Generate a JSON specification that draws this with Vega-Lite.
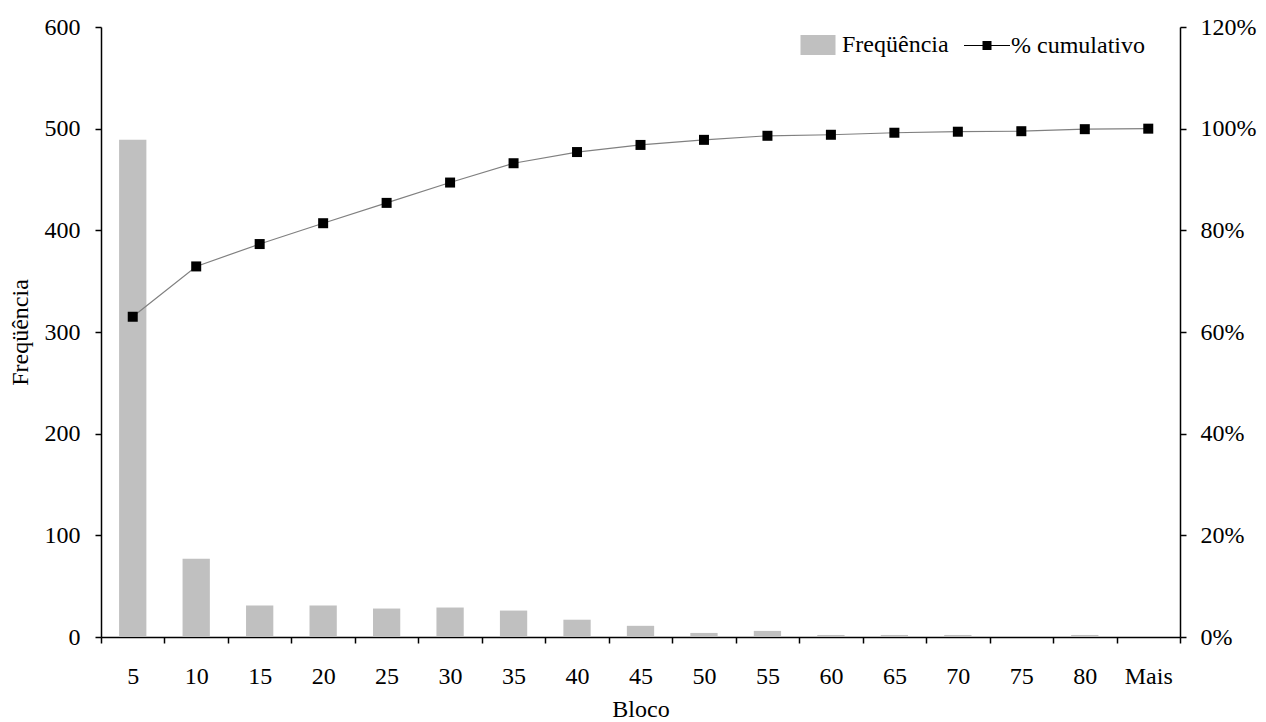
{
  "$schema": "https://vega.github.io/schema/vega-lite/v6.json",
  "width": 1079,
  "height": 610,
  "autosize": "none",
  "padding": {"left": 101, "top": 27, "right": 86, "bottom": 85},
  "background": "white",
  "config": {
    "font": "Liberation Serif",
    "view": {"stroke": null},
    "axis": {
      "labelFont": "Liberation Serif",
      "titleFont": "Liberation Serif",
      "labelFontSize": 24,
      "titleFontSize": 24,
      "titleFontWeight": "normal",
      "labelColor": "black",
      "titleColor": "black",
      "domainColor": "black",
      "tickColor": "black",
      "domainWidth": 1.5,
      "tickWidth": 1.5,
      "grid": false
    }
  },
  "data": {
    "values": [
      {"bloco": "5", "freq": 489, "cum": 0.630},
      {"bloco": "10", "freq": 77, "cum": 0.729},
      {"bloco": "15", "freq": 31, "cum": 0.773},
      {"bloco": "20", "freq": 31, "cum": 0.814},
      {"bloco": "25", "freq": 28, "cum": 0.854},
      {"bloco": "30", "freq": 29, "cum": 0.894},
      {"bloco": "35", "freq": 26, "cum": 0.932},
      {"bloco": "40", "freq": 17, "cum": 0.954},
      {"bloco": "45", "freq": 11, "cum": 0.968},
      {"bloco": "50", "freq": 4, "cum": 0.978},
      {"bloco": "55", "freq": 6, "cum": 0.986},
      {"bloco": "60", "freq": 2, "cum": 0.988},
      {"bloco": "65", "freq": 2, "cum": 0.992},
      {"bloco": "70", "freq": 2, "cum": 0.994},
      {"bloco": "75", "freq": 0, "cum": 0.995},
      {"bloco": "80", "freq": 2, "cum": 0.999},
      {"bloco": "Mais", "freq": 0, "cum": 1.0}
    ]
  },
  "encoding": {
    "x": {
      "field": "bloco",
      "type": "ordinal",
      "sort": null,
      "scale": {"paddingInner": 0, "paddingOuter": 0},
      "axis": {
        "title": "Bloco",
        "labelAngle": 0,
        "tickBand": "extent",
        "tickSize": 6,
        "labelPadding": 21,
        "titlePadding": 9
      }
    }
  },
  "layer": [
    {
      "mark": {"type": "bar", "width": {"band": 0.43}},
      "encoding": {
        "y": {
          "field": "freq",
          "type": "quantitative",
          "scale": {"domain": [0, 600]},
          "axis": {
            "title": "Freqüência",
            "values": [0, 100, 200, 300, 400, 500, 600],
            "tickSize": 6,
            "labelPadding": 15,
            "titlePadding": 12
          }
        },
        "color": {
          "datum": "Freqüência",
          "scale": {"domain": ["Freqüência", "% cumulativo"], "range": ["#c0c0c0", "#000000"]},
          "legend": {
            "title": null,
            "orient": "none",
            "legendX": 705,
            "legendY": 6,
            "direction": "horizontal",
            "labelFont": "Liberation Serif",
            "labelFontSize": 24,
            "labelColor": "black",
            "symbolSize": 400,
            "labelOffset": 12,
            "columnPadding": 12,
            "encode": {
              "symbols": {
                "update": {
                  "shape": [
                    {"test": "datum.value === 'Freqüência'", "value": "M-1.75,-1H1.75V1H-1.75Z"},
                    {"value": "M-2.3,-0.06H2.3V0.06H-2.3Z M-0.45,-0.45H0.45V0.45H-0.45Z"}
                  ],
                  "fill": [
                    {"test": "datum.value === 'Freqüência'", "value": "#c0c0c0"},
                    {"value": "#000000"}
                  ],
                  "stroke": {"value": "transparent"},
                  "opacity": {"value": 1}
                }
              }
            }
          }
        }
      }
    },
    {
      "encoding": {
        "y": {
          "field": "cum",
          "type": "quantitative",
          "scale": {"domain": [0, 1.2]},
          "axis": {
            "orient": "right",
            "title": null,
            "format": ".0%",
            "values": [0, 0.2, 0.4, 0.6, 0.8, 1.0, 1.2],
            "tickSize": 6,
            "labelPadding": 14
          }
        }
      },
      "layer": [
        {"mark": {"type": "line", "stroke": "#808080", "strokeWidth": 1.2}},
        {
          "mark": {"type": "point", "shape": "square", "filled": true, "size": 100, "opacity": 1},
          "encoding": {"color": {"datum": "% cumulativo"}}
        }
      ]
    }
  ],
  "resolve": {"scale": {"y": "independent"}}
}
